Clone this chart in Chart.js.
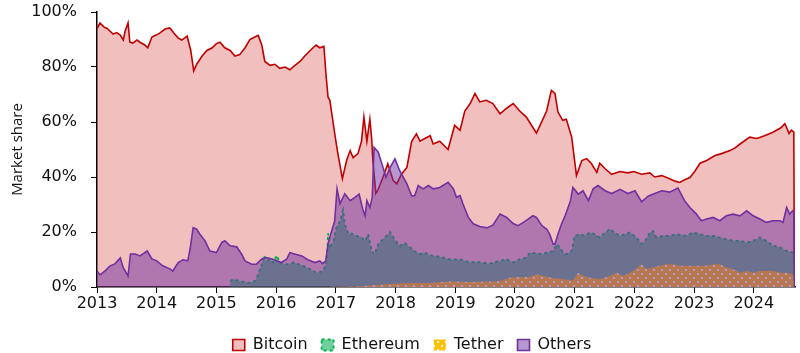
<!DOCTYPE html>
<html>
<head>
<meta charset="utf-8">
<script src="https://cdn.jsdelivr.net/npm/chart.js@4.4.1/dist/chart.umd.min.js"></script>
<style>
  html, body { margin: 0; padding: 0; background: #fff; }
  #wrap { width: 800px; height: 353px; position: relative; }
</style>
</head>
<body>
<div id="wrap"><canvas id="shareChart"></canvas></div>
<script>
// --- data (decimal years, market share in %) ---
const btcYears = [2013.00,2013.05,2013.12,2013.17,2013.22,2013.27,2013.33,2013.39,2013.44,2013.47,2013.52,2013.55,2013.60,2013.67,2013.72,2013.80,2013.85,2013.92,2013.99,
  2014.05,2014.14,2014.22,2014.29,2014.36,2014.42,2014.51,2014.57,2014.62,2014.67,2014.76,2014.84,2014.93,
  2015.00,2015.06,2015.14,2015.23,2015.31,2015.39,2015.48,2015.56,2015.65,2015.70,2015.76,2015.81,2015.90,2015.98,
  2016.06,2016.15,2016.23,2016.31,2016.40,2016.48,2016.57,2016.67,2016.73,2016.80,2016.84,2016.87,2016.90,2016.98,
  2017.03,2017.11,2017.18,2017.24,2017.29,2017.37,2017.43,2017.47,2017.52,2017.57,2017.60,2017.62,2017.67,2017.70,2017.79,2017.87,2017.96,
  2018.02,2018.10,2018.19,2018.27,2018.35,2018.41,2018.49,2018.58,2018.63,2018.74,2018.88,2018.99,
  2019.08,2019.16,2019.25,2019.33,2019.41,2019.52,2019.63,2019.75,2019.86,2019.97,
  2020.08,2020.19,2020.30,2020.36,2020.42,2020.53,2020.61,2020.67,2020.72,2020.80,2020.86,2020.95,
  2021.03,2021.12,2021.20,2021.28,2021.37,2021.42,2021.51,2021.62,2021.76,2021.89,2021.99,
  2022.12,2022.26,2022.34,2022.46,2022.59,2022.68,2022.76,2022.84,2022.93,
  2023.01,2023.10,2023.21,2023.35,2023.46,2023.60,2023.68,2023.77,2023.93,
  2024.05,2024.18,2024.32,2024.46,2024.52,2024.55,2024.59,2024.63,2024.67,2024.68];
const btcShare = [94,96,94.5,94,93,92,92.5,91.6,89.8,93,96,89,88.7,89.8,89,88,87,90.9,91.6,
  92.3,93.8,94.2,92.3,90.5,89.8,91.2,86,78.6,81,84,86,87,
  88.5,89,87,86,84,84.5,87,90,91,91.5,88,82,80.6,81,
  79.5,80,79,80.5,82,84,86,88,87,87.5,76,69,67.9,56,
  49,39.4,46,49.6,47,48.5,53,61.8,53,61,54,46,34,35,39.9,44.8,38.7,
  37.5,41,43.5,53,55.7,53,54,55,52,53,50,58.8,
  57,64,66.7,70.4,67.3,67.9,66.7,63,65,66.7,
  64,61.8,58,56,58.8,64,71.5,70.4,63.6,60.6,61,54.5,
  40.5,46,46.7,44.9,41.7,45,43,41,42,41.5,42,
  41,41.5,40,40.5,39.4,38.5,38,39,39.8,
  42,45,46,47.8,48.5,49.6,50.5,52,54.5,
  54,55,56.3,58,59.4,58,55.8,57,56.3,0];

const ethYears = [2015.23,2015.28,2015.39,2015.51,2015.56,2015.65,2015.70,2015.76,2015.80,2015.83,2015.90,2015.95,
  2016.01,2016.06,2016.12,2016.20,2016.29,2016.37,2016.45,2016.57,2016.68,2016.79,2016.85,2016.87,2016.90,2016.96,
  2017.01,2017.07,2017.12,2017.15,2017.21,2017.26,2017.35,2017.43,2017.49,2017.54,2017.60,2017.65,2017.71,2017.82,2017.91,2017.99,
  2018.07,2018.16,2018.24,2018.32,2018.41,2018.49,2018.58,2018.74,2018.91,
  2019.08,2019.25,2019.41,2019.58,2019.75,2019.86,2019.97,
  2020.08,2020.19,2020.25,2020.36,2020.45,2020.53,2020.64,2020.70,2020.75,2020.81,2020.86,2020.95,
  2021.00,2021.09,2021.17,2021.25,2021.34,2021.42,2021.51,2021.59,2021.67,2021.76,2021.84,2021.92,
  2022.04,2022.12,2022.18,2022.26,2022.31,2022.37,2022.48,2022.59,2022.71,2022.87,2022.98,
  2023.10,2023.21,2023.32,2023.43,2023.54,2023.65,2023.77,2023.88,2023.99,
  2024.10,2024.21,2024.32,2024.44,2024.55,2024.66,2024.67,2024.68];
const ethShare = [2.2,2.8,2.2,1.6,1.6,2.2,4.6,8.3,11.5,9.5,10.1,8.9,
  11.5,8.9,8.3,8.3,8.9,8.3,7.7,6.5,5.2,5.8,9.5,19.5,14,16.8,
  21.6,24,28,23,19.2,19.5,18.6,18,16.8,19.2,13.1,11.9,15.6,18,20,17,
  15,16,14.5,13,12,12.5,11.5,11,10,
  10,9,9,8.5,9.5,10.1,8.9,
  10.1,10.7,12.5,12.2,11.9,12.5,13.1,15.6,14.4,12.5,11.9,13.1,
  18.6,19.2,18.6,19.8,19.2,18,19.8,21.1,19.8,18.6,19.2,19.8,
  18,15.6,16.8,19.8,20.4,18,18.6,18.6,19.2,18.6,19.8,
  19.2,18.6,18.6,18,17.4,16.8,16.8,16.2,16.8,
  18,16.8,15,14.4,13.1,12.5,12.5,0];

const usdtYears = [2016.90,2017.40,2017.74,2017.99,2018.24,2018.58,2018.91,2019.25,2019.58,2019.75,2019.91,
  2020.08,2020.25,2020.36,2020.47,2020.64,2020.81,2020.97,
  2021.06,2021.14,2021.25,2021.42,2021.59,2021.70,2021.81,2021.98,
  2022.12,2022.20,2022.31,2022.42,2022.54,2022.65,2022.76,2022.98,
  2023.21,2023.32,2023.43,2023.54,2023.65,2023.77,2023.88,2023.99,
  2024.10,2024.32,2024.44,2024.55,2024.66,2024.67,2024.68];
const usdtShare = [0.1,0.3,0.8,1.2,1.5,1.5,2,1.8,2,2.2,3.4,
  3.6,3.6,4.6,4,3.2,2.8,2.4,
  5.2,4,3.4,2.8,4,5.2,4,5.8,
  8.3,6.5,7.1,7.7,8.3,8.3,7.7,7.7,
  7.7,8.3,8.3,7.1,6.5,5.2,5.8,5.2,
  5.8,5.8,5.2,5.2,4.6,4.6,0];

const otherYears = [2013.00,2013.05,2013.13,2013.22,2013.30,2013.39,2013.44,2013.52,2013.56,2013.64,2013.72,2013.84,2013.92,
  2014.00,2014.10,2014.22,2014.27,2014.36,2014.44,2014.52,2014.56,2014.61,2014.67,2014.72,2014.81,2014.89,
  2015.00,2015.09,2015.14,2015.23,2015.34,2015.42,2015.48,2015.59,2015.67,2015.76,2015.84,2015.93,
  2016.01,2016.09,2016.18,2016.23,2016.31,2016.43,2016.53,2016.65,2016.73,2016.78,2016.83,2016.87,2016.93,2016.98,
  2017.02,2017.07,2017.15,2017.24,2017.32,2017.39,2017.45,2017.49,2017.52,2017.57,2017.61,2017.64,2017.71,2017.79,2017.84,2017.91,2017.99,
  2018.07,2018.19,2018.27,2018.32,2018.38,2018.46,2018.55,2018.63,2018.74,2018.88,2018.97,
  2019.02,2019.08,2019.13,2019.22,2019.30,2019.41,2019.53,2019.63,2019.75,2019.86,2019.97,
  2020.05,2020.14,2020.22,2020.30,2020.36,2020.45,2020.53,2020.58,2020.64,2020.67,2020.72,2020.78,2020.84,2020.89,2020.93,2020.97,
  2021.06,2021.14,2021.23,2021.31,2021.39,2021.51,2021.62,2021.76,2021.89,
  2022.01,2022.12,2022.23,2022.34,2022.46,2022.59,2022.73,2022.84,2022.93,
  2023.04,2023.12,2023.21,2023.32,2023.43,2023.54,2023.65,2023.77,2023.88,2023.99,
  2024.10,2024.21,2024.32,2024.44,2024.49,2024.55,2024.60,2024.65,2024.67,2024.68];
const otherShare = [5.8,4.4,5.8,7.7,8.4,10.6,7,4,12,12,11.3,13.1,10.2,
  9.5,7.7,6.6,5.8,8.9,9.9,9.5,13.9,21.6,21,19.3,16.8,13.1,
  12.5,16.2,16.8,15,14.6,12,9.5,8.3,8.3,10.2,10.7,10.2,
  9.5,8.9,10.2,12.5,12,11.3,9.9,8.9,9.5,8.5,9.5,15.7,20.4,24,
  35.7,30.3,33.9,31.4,32.6,33.8,28.4,25.9,31.4,28.9,32.6,50.8,49,43.5,39.9,43.5,46.6,
  42.3,37.5,33.2,33.2,36.9,35.7,36.9,35.7,36.2,38.1,35.7,
  32.6,33.2,30.2,25.3,23,22,21.5,22.5,26.5,25.3,23.1,
  22.3,23.5,24.7,25.9,25.3,22.3,21.1,19.2,15.6,15.6,19.2,22.9,25.9,28.9,31.4,36.2,
  33.8,35,31.4,35.7,36.9,35,34,35.5,34,
  35,31,33,34,35,34.5,36,31.4,28.9,
  26.5,24.1,24.7,25.3,24.1,25.9,26.5,25.9,27.7,25.9,
  24.7,23.5,24.1,24.1,23.5,28.9,26.5,27.7,27,0];

const seriesNames = ['Bitcoin', 'Ethereum', 'Tether', 'Others'];
const yearTicks = [2013, 2014, 2015, 2016, 2017, 2018, 2019, 2020, 2021, 2022, 2023, 2024];

function toPoints(xs, ys) {
    return xs.map((x, i) => ({ x: x, y: ys[i] }));
}

// dotted yellow fill for Tether
function dotPattern() {
    const c = document.createElement('canvas');
    c.width = 8; c.height = 8;
    const g = c.getContext('2d');
    g.fillStyle = '#FFC000';
    g.fillRect(0, 0, 8, 8);
    g.fillStyle = '#ffffff';
    g.fillRect(1, 1, 2, 2);
    g.fillRect(5, 5, 2, 2);
    return g.createPattern(c, 'repeat');
}

// nudge the legend a little to the right, as in the original
const legendShift = {
    id: 'legendShift',
    afterLayout(chart) {
        chart.legend.left += 10;
        chart.legend.right += 10;
    }
};

Chart.defaults.font.family = '"DejaVu Sans", sans-serif';
Chart.defaults.color = '#111';

const ctx = document.getElementById('shareChart').getContext('2d');
const chart = new Chart(ctx, {
    type: 'line',
    data: {
        datasets: [{
            label: seriesNames[0],
            data: toPoints(btcYears, btcShare),
            borderColor: '#C00000',
            backgroundColor: 'rgba(204,0,0,0.25)',
            borderWidth: 1.6,
            fill: 'origin',
            order: 4
        }, {
            label: seriesNames[1],
            data: toPoints(ethYears, ethShare),
            borderColor: '#00B050',
            backgroundColor: 'rgba(0,170,80,0.56)',
            borderWidth: 1.8,
            borderDash: [3, 3],
            fill: 'origin',
            order: 3
        }, {
            label: seriesNames[2],
            data: toPoints(usdtYears, usdtShare),
            borderColor: '#FFC000',
            backgroundColor: dotPattern(),
            borderWidth: 0,
            fill: 'origin',
            order: 2
        }, {
            label: seriesNames[3],
            data: toPoints(otherYears, otherShare),
            borderColor: '#7030A0',
            backgroundColor: 'rgba(112,48,160,0.5)',
            borderWidth: 1.6,
            fill: 'origin',
            order: 1
        }]
    },
    options: {
        responsive: true,
        maintainAspectRatio: false,
        animation: false,
        elements: { point: { radius: 0 }, line: { tension: 0 } },
        layout: { padding: { top: 12, right: 5, left: 9, bottom: -10 } },
        plugins: {
            legend: {
                position: 'bottom',
                labels: {
                    boxWidth: 12,
                    boxHeight: 11,
                    padding: 14,
                    font: { size: 16 },
                    color: '#111',
                    sort: (a, b) => a.datasetIndex - b.datasetIndex
                }
            },
            tooltip: { enabled: false }
        },
        scales: {
            x: {
                type: 'linear',
                min: 2013,
                max: 2024.69,
                border: { color: '#000', width: 1.5 },
                grid: { drawOnChartArea: false, color: '#000', tickLength: 6 },
                afterBuildTicks: (axis) => { axis.ticks = yearTicks.map(v => ({ value: v })); },
                afterFit: (axis) => { axis.height = 36; },
                ticks: {
                    font: { size: 16 },
                    color: '#111',
                    padding: 1,
                    maxRotation: 0,
                    callback: (v) => String(v)
                }
            },
            y: {
                min: 0,
                max: 100,
                border: { color: '#000', width: 1.5 },
                grid: { drawOnChartArea: false, color: '#000', tickLength: 6 },
                afterFit: (axis) => { axis.width = 88; axis.paddingTop = 0; axis.paddingBottom = 0; },
                ticks: {
                    stepSize: 20,
                    font: { size: 16 },
                    color: '#111',
                    padding: 14,
                    callback: (v) => v + '%'
                },
                title: {
                    display: true,
                    text: 'Market share',
                    font: { family: '"Open Sans", sans-serif', size: 15 },
                    color: '#111',
                    padding: { top: 0, bottom: 4 }
                }
            }
        }
    },
    plugins: [legendShift]
});
</script>
</body>
</html>
